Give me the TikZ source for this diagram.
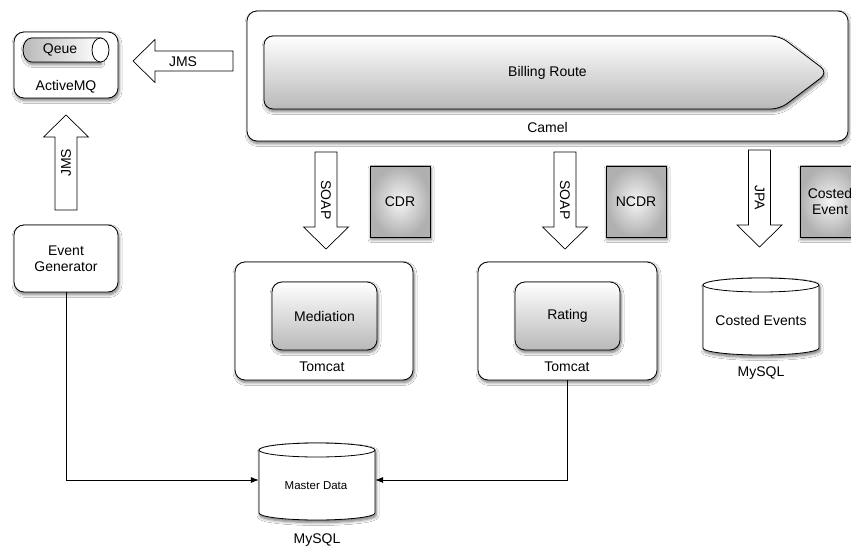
\documentclass[tikz,border=0pt]{standalone}
\usepackage{fontspec}
\setmainfont{Liberation Sans}
\usetikzlibrary{shadows.blur,arrows.meta,calc}
\begin{document}
\begin{tikzpicture}[x=1pt,y=-1pt,
  lbl/.style={font=\fontsize{14}{16}\selectfont, inner sep=0pt, align=center},
  smalllbl/.style={font=\fontsize{11.5}{13}\selectfont, inner sep=0pt},
  shd/.style={blur shadow={shadow blur steps=6, shadow xshift=1pt, shadow yshift=-2.5pt, shadow blur radius=3pt, shadow opacity=55}},
  outerbox/.style={draw=black, line width=0.8pt, fill=white, rounded corners=10pt, shd, inner sep=0pt},
  innerbox/.style={draw=black, line width=0.8pt, rounded corners=10pt, top color=white, bottom color=gray!55, shd, inner sep=0pt, lbl},
  docbox/.style={draw=black, line width=0.8pt, shading=radial, inner color=gray!8, outer color=gray!62, shd, inner sep=0pt, lbl, minimum width=60pt, minimum height=71pt},
  barrow/.style={draw=black, line width=0.7pt, fill=white},
  cyl/.style={draw=black, line width=0.8pt, fill=white, shd},
  conn/.style={draw=black, line width=0.7pt, -{Latex[length=8pt,width=6pt]}}
]
\useasboundingbox[fill=white] (0,0) rectangle (851,548);

% ActiveMQ
\node[outerbox, minimum width=104pt, minimum height=66pt] (amq) at (66,65) {};
\path[draw=black, line width=0.8pt, left color=gray!55, right color=white, shd]
  (100.5,38) -- (31.5,38) arc[start angle=270, end angle=90, x radius=8.5, y radius=12] -- (100.5,62) -- cycle;
\draw[line width=0.8pt, fill=white] (100.5,50) ellipse[x radius=8.5, y radius=12];
\node[lbl] (queue) at (60,50) {Qeue};
\node[lbl] (amqlbl) at (66,87) {ActiveMQ};

% Event generator
\node[outerbox, lbl, minimum width=104pt, minimum height=67pt] (evgen) at (66,258.5) {Event\\Generator};

% Camel
\node[outerbox, minimum width=601pt, minimum height=130pt] (camel) at (547.5,76) {};
\path[draw=black, line width=0.8pt, rounded corners=9pt, top color=white, bottom color=gray!55, shd]
  (264,36) -- (780,36) -- (828,72.5) -- (780,109) -- (264,109) -- cycle;
\node[lbl] (route) at (547.5,72.5) {Billing Route};
\node[lbl] (camellbl) at (547.5,127) {Camel};

% Tomcat 1
\node[outerbox, minimum width=178pt, minimum height=118pt] (tomcat1) at (324,321) {};
\node[innerbox, minimum width=105pt, minimum height=68pt] (med) at (324.5,316) {Mediation};
\node[lbl] (tc1lbl) at (322,367) {Tomcat};

% Tomcat 2
\node[outerbox, minimum width=179pt, minimum height=118pt] (tomcat2) at (567.5,321) {};
\node[innerbox, minimum width=105pt, minimum height=68pt] (rating) at (567.5,316) {Rating};
\node[lbl] (tc2lbl) at (567,367) {Tomcat};

% Documents
\node[docbox] (cdr) at (400,201.5) {CDR};
\node[docbox] (ncdr) at (636,201.5) {NCDR};
\node[docbox] (costev) at (830,201.5) {Costed\\Event};

% Costed Events cylinder
\path[cyl] (703,285) -- (703,348) arc[start angle=180, end angle=0, x radius=58, y radius=7]
  -- (819,285) arc[start angle=0, end angle=-180, x radius=58, y radius=7] -- cycle;
\draw[line width=0.8pt] (703,285) arc[start angle=180, end angle=0, x radius=58, y radius=7];
\node[minimum width=116pt, minimum height=77pt, inner sep=0pt] (costdb) at (761,316.5) {};
\node[lbl] at (761,320) {Costed Events};
\node[lbl] (mysql1) at (761,373) {MySQL};

% Master Data cylinder
\path[cyl] (259,450) -- (259,513) arc[start angle=180, end angle=0, x radius=58, y radius=7]
  -- (375,450) arc[start angle=0, end angle=-180, x radius=58, y radius=7] -- cycle;
\draw[line width=0.8pt] (259,450) arc[start angle=180, end angle=0, x radius=58, y radius=7];
\node[minimum width=116pt, minimum height=77pt, inner sep=0pt] (master) at (317,480) {};
\node[smalllbl] at (316,486) {Master Data};
\node[lbl] (mysql2) at (317,540) {MySQL};

% Block arrows
% JMS left (Camel -> ActiveMQ)
\path[barrow] (133,61) -- (155,39.5) -- (155,51) -- (233,51) -- (233,71) -- (155,71) -- (155,82.5) -- cycle;
\node[lbl] at (183,61.5) {JMS};
% JMS up (Event Generator -> ActiveMQ)
\path[barrow] (66,115) -- (88.5,137) -- (77,137) -- (77,210) -- (55,210) -- (55,137) -- (43.5,137) -- cycle;
\node[lbl, rotate=90] at (66,163) {JMS};
% SOAP 1
\path[barrow] (326,249) -- (348.5,227) -- (337,227) -- (337,152) -- (315,152) -- (315,227) -- (303.5,227) -- cycle;
\node[lbl, rotate=-90] at (326,200) {SOAP};
% SOAP 2
\path[barrow] (565,249) -- (587.5,227) -- (576,227) -- (576,152) -- (554,152) -- (554,227) -- (542.5,227) -- cycle;
\node[lbl, rotate=-90] at (565,200) {SOAP};
% JPA
\path[barrow] (759.5,247) -- (782,225) -- (770.5,225) -- (770.5,150) -- (748.5,150) -- (748.5,225) -- (737,225) -- cycle;
\node[lbl, rotate=-90] at (759.5,198) {JPA};

% Connectors
\draw[conn] (evgen.south) |- (master.west);
\draw[conn] (tomcat2.south) |- (master.east);
\end{tikzpicture}
\end{document}
